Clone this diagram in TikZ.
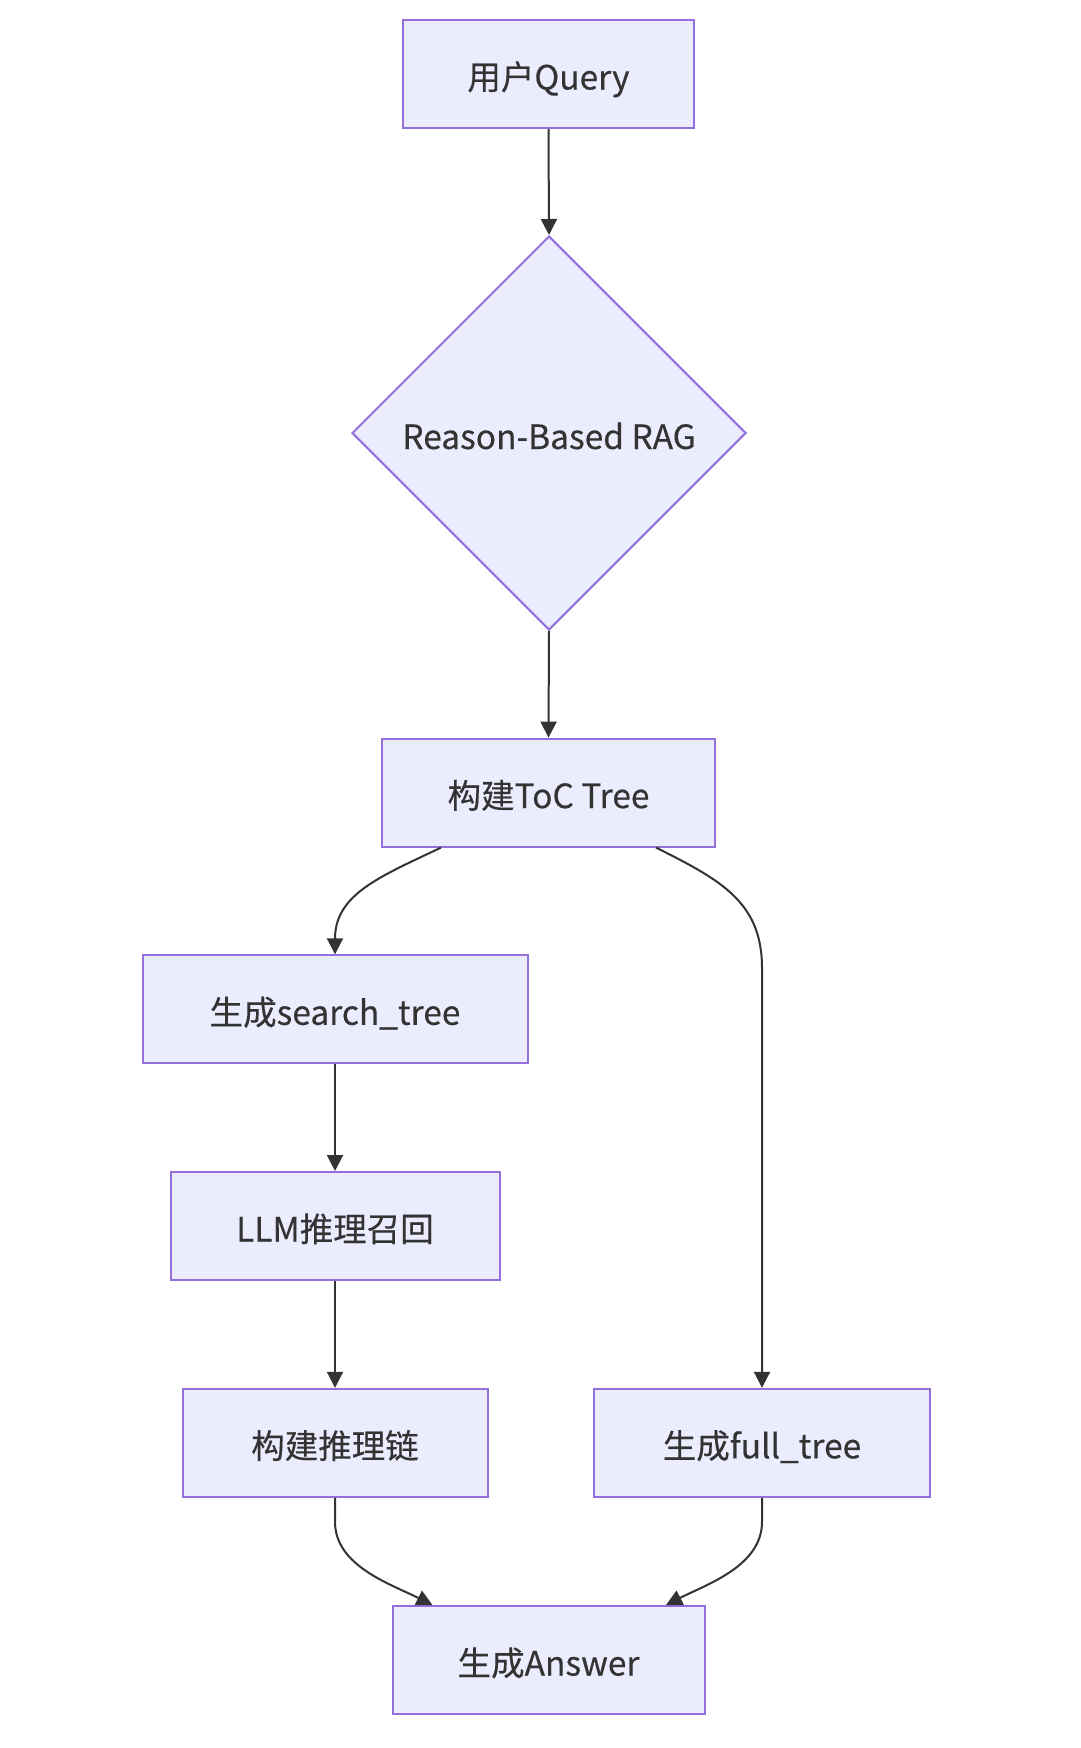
\documentclass[tikz,border=0pt]{standalone}
\usepackage{fontspec}
\setmainfont{Noto Sans CJK SC}[BoldFont=Noto Sans CJK SC,BoldFeatures={FakeBold=0.35}]
\usetikzlibrary{shapes.geometric,arrows.meta,calc}
\definecolor{nodefill}{HTML}{ECECFF}
\definecolor{nodeborder}{HTML}{9370DB}
\definecolor{edgecol}{HTML}{333333}
\begin{document}
\begin{tikzpicture}[x=1pt,y=-1pt,
  lbl/.style={text=edgecol,font=\fontsize{33.5}{40}\selectfont\bfseries},
  box/.style={lbl,draw=nodeborder,fill=nodefill,line width=2pt,minimum height=108pt,inner sep=0pt,text height=35pt,text depth=4pt},
  dia/.style={lbl,diamond,draw=nodeborder,fill=nodefill,line width=2pt,minimum width=394pt,minimum height=394pt,inner sep=0pt,text height=36pt,text depth=4pt},
  edge/.style={draw=edgecol,line width=2pt,-{Triangle[length=16pt,width=16pt]}}]
\useasboundingbox (0,0) rectangle (1080,1748);
\fill[white] (0,0) rectangle (1080,1748);
\node[box,minimum width=291pt] (query) at (548.5,74) {用户Query};
\node[dia] (rag) at (549,433) {Reason-Based RAG};
\node[box,minimum width=333pt] (toc) at (548.5,792.6) {构建ToC Tree};
\node[box,minimum width=385pt] (search) at (335,1009.3) {生成search\_tree};
\node[box,minimum width=329pt] (llm) at (335,1226) {LLM推理召回};
\node[box,minimum width=305pt] (chain) at (335,1442.8) {构建推理链};
\node[box,minimum width=336pt] (full) at (762,1442.8) {生成full\_tree};
\node[box,minimum width=312pt] (answer) at (548.5,1660) {生成Answer};
\draw[edge] (query.south) -- (rag.north);
\draw[edge] (rag.south) -- (toc.north);
\draw[edge] ([xshift=-107.5pt]toc.south) .. controls ([xshift=-168.5pt,yshift=-29pt]toc.south) and ([yshift=60pt]search.north) .. (search.north);
\draw[edge] ([xshift=107.5pt]toc.south) .. controls ([xshift=171.5pt,yshift=-32pt]toc.south) and ([yshift=486pt]full.north) .. ([yshift=420pt]full.north) -- (full.north);
\draw[edge] (search.south) -- (llm.north);
\draw[edge] (llm.south) -- (chain.north);
\draw[edge] (chain.south) -- ([yshift=-24pt]chain.south) .. controls ([yshift=-68pt]chain.south) and ([xshift=-158pt,yshift=21pt]answer.north) .. ([xshift=-116pt]answer.north);
\draw[edge] (full.south) -- ([yshift=-24pt]full.south) .. controls ([yshift=-68pt]full.south) and ([xshift=159pt,yshift=21pt]answer.north) .. ([xshift=117.5pt]answer.north);
\end{tikzpicture}
\end{document}
